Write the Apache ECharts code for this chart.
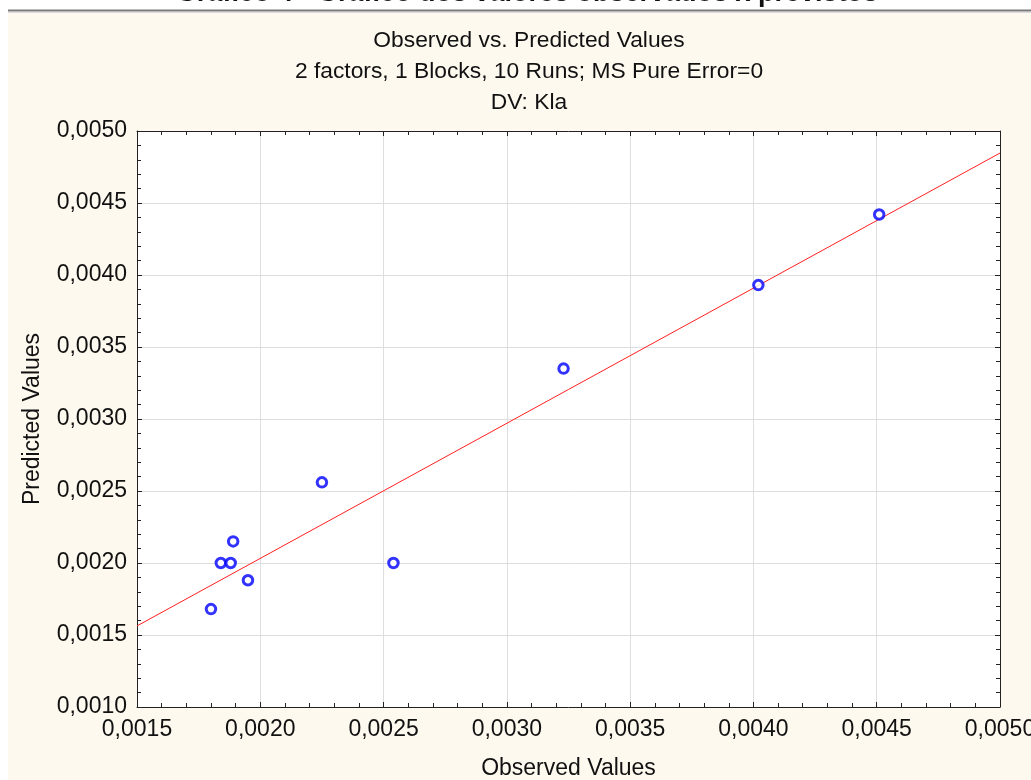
<!DOCTYPE html>
<html>
<head>
<meta charset="utf-8">
<script src="https://cdn.jsdelivr.net/npm/echarts@6/dist/echarts.min.js"></script>
<style>html,body{margin:0;padding:0;background:#fff}#c{width:1031px;height:780px}</style>
</head>
<body>
<div id="c"></div>
<script>
// Data
const observed  = [0.00451, 0.00402, 0.00323, 0.00225, 0.00254, 0.00189, 0.00184, 0.00188, 0.00195, 0.00180];
const predicted = [0.00442, 0.00393, 0.00335, 0.00256, 0.00200, 0.00215, 0.00200, 0.00200, 0.00188, 0.00168];
const fitLineX = [0.0015, 0.0050];
const fitLineY = [0.001563, 0.004847];
const titleLines = ['Observed vs. Predicted Values', '2 factors, 1 Blocks, 10 Runs; MS Pure Error=0', 'DV: Kla'];
const pageTitle = 'Gráfico 4 - Gráfico dos valores observados x previstos';
const xName = 'Observed Values';
const yName = 'Predicted Values';
const axisMin = 0.0015, axisMax = 0.0050, yMin = 0.0010, yMax = 0.0050, step = 0.0005;

const font = '"Liberation Sans", Arial, sans-serif';
const fs = 23;
const fmt = v => v.toFixed(4).replace('.', ',');

const chart = echarts.init(document.getElementById('c'));
const scatterData = observed.map((x, i) => [x, predicted[i]]);
const lineData = fitLineX.map((x, i) => [x, fitLineY[i]]);

function axisBase(extra) {
  return Object.assign({
    type: 'value',
    interval: step,
    axisLine: { show: true, lineStyle: { color: '#222', width: 1 } },
    axisTick: { show: true, inside: true, length: 5, lineStyle: { color: '#222' } },
    minorTick: { show: true, splitNumber: 5, length: 4, lineStyle: { color: '#222' } },
    splitLine: { show: false },
    axisLabel: { show: false }
  }, extra);
}

const titleGraphics = titleLines.map((t, i) => ({
  type: 'text', x: 529, y: 41 + i * 31,
  style: { text: t, fill: '#111', font: '22.8px ' + font, textAlign: 'center', textVerticalAlign: 'middle' }
}));

chart.setOption({
  backgroundColor: '#fef9ef',
  animation: false,
  graphic: [
    { type: 'rect', shape: { x: 0, y: 0, width: 1031, height: 13 }, style: { fill: '#fff' } },
    { type: 'rect', shape: { x: 0, y: 0, width: 8, height: 780 }, style: { fill: '#fff' } },
    { type: 'rect', shape: { x: 8, y: 9.5, width: 1023, height: 2 }, style: { fill: '#7a7a7a' } },
    { type: 'rect', shape: { x: 8, y: 11.5, width: 1023, height: 1 }, style: { fill: '#b8b8b8' } },
    { type: 'text', x: 527, y: -6, style: { text: pageTitle, fill: '#111', font: 'bold 27px ' + font, textAlign: 'center', textVerticalAlign: 'middle' } }
  ].concat(titleGraphics),
  grid: { left: 137, right: 31, top: 131, bottom: 73, show: true, backgroundColor: '#fff', borderWidth: 0, outerBoundsMode: 'none', containLabel: false },
  xAxis: [
    axisBase({
      position: 'bottom', min: axisMin, max: axisMax,
      name: xName, nameLocation: 'middle', nameGap: 50,
      nameTextStyle: { fontFamily: font, fontSize: fs, color: '#111' },
      splitLine: { show: true, lineStyle: { color: '#dedede', width: 1 } },
      axisLabel: { show: true, formatter: fmt, margin: 11, fontFamily: font, fontSize: fs, color: '#111' }
    }),
    axisBase({ position: 'top', min: axisMin, max: axisMax })
  ],
  yAxis: [
    axisBase({
      position: 'left', min: yMin, max: yMax,
      name: yName, nameLocation: 'middle', nameGap: 93,
      nameTextStyle: { fontFamily: font, fontSize: fs, color: '#111' },
      splitLine: { show: true, lineStyle: { color: '#dedede', width: 1 } },
      axisLabel: { show: true, formatter: fmt, margin: 10, fontFamily: font, fontSize: fs, color: '#111' }
    }),
    axisBase({ position: 'right', min: yMin, max: yMax })
  ],
  series: [
    {
      type: 'line', data: lineData, symbol: 'none',
      lineStyle: { color: '#ff2020', width: 1 }, z: 2
    },
    {
      type: 'scatter', data: scatterData, symbol: 'circle', symbolSize: 9.5,
      itemStyle: { color: '#fff', borderColor: '#0000ff', borderWidth: 3 }, z: 3
    }
  ]
});
</script>
</body>
</html>
